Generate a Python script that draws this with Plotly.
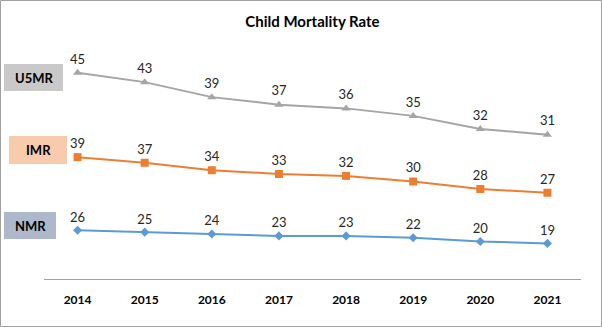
import plotly.graph_objects as go

years = ["2014", "2015", "2016", "2017", "2018", "2019", "2020", "2021"]
nmr = [26, 25, 24, 23, 23, 22, 20, 19]
imr = [39, 37, 34, 33, 32, 30, 28, 27]
u5mr = [45, 43, 39, 37, 36, 35, 32, 31]

series_names = ["NMR", "IMR", "U5MR"]
series_colors = ["#5B9BD5", "#ED7D31", "#A5A5A5"]
series_symbols = ["diamond", "square", "triangle-up"]
series_sizes = [7, 8, 8]
box_colors = ["#ADB9CA", "#F8CBAD", "#C9C9C9"]

W, H = 602, 327
L, R, T, B = 44, 21, 54, 48
PW, PH = W - L - R, H - T - B

def px_x(x):
    return (x - L) / PW

def px_y(y):
    return (H - B - y) / PH

fig = go.Figure()
for name, vals, col, sym, sz in zip(series_names, [nmr, imr, u5mr], series_colors, series_symbols, series_sizes):
    fig.add_trace(go.Scatter(
        x=years, y=vals, name=name, stackgroup="one", fill="none",
        mode="lines+markers+text",
        line=dict(color=col, width=2),
        marker=dict(color=col, symbol=sym, size=sz),
        text=[str(v) for v in vals], textposition="top center",
        textfont=dict(family="Lato, Arial", size=13, color="#262626"),
        hoverinfo="skip",
    ))

shapes = [dict(type="rect", xref="paper", yref="paper",
               x0=px_x(0.5), x1=px_x(W - 0.5), y0=px_y(H - 0.5), y1=px_y(0.5),
               line=dict(color="#A0A0A0", width=1), layer="below")]
annotations = []
boxes = [(4, 56, 212, 239), (9, 67, 136, 164), (4, 63, 64, 91)]
for name, bc, (x0, x1, y0, y1) in zip(series_names, box_colors, boxes):
    shapes.append(dict(type="rect", xref="paper", yref="paper",
                       x0=px_x(x0), x1=px_x(x1), y0=px_y(y1), y1=px_y(y0),
                       fillcolor=bc, line=dict(width=0), layer="below"))
    annotations.append(dict(xref="paper", yref="paper", x=px_x((x0 + x1) / 2), y=px_y((y0 + y1) / 2),
                            text="<b>%s</b>" % name, showarrow=False, xanchor="center", yanchor="middle",
                            font=dict(family="Lato, Arial", size=13, color="#000000")))

fig.update_layout(
    width=W, height=H,
    margin=dict(l=L, r=R, t=T, b=B),
    paper_bgcolor="white", plot_bgcolor="white",
    showlegend=False,
    title=dict(text="<b>Child Mortality Rate</b>", x=0.5, xref="paper", xanchor="center",
               y=1 - 22 / H, yanchor="middle",
               font=dict(family="Lato, Arial", size=15, color="#000000")),
    xaxis=dict(type="category", range=[-0.5, 7.5], showgrid=False, zeroline=False,
               showline=True, linecolor="#A0A0A0", linewidth=1, ticks="",
               ticklabelstandoff=10,
               tickfont=dict(family="Lato, Arial", size=12, color="#000000"),
               tickvals=years, ticktext=["<b>%s</b>" % y for y in years]),
    yaxis=dict(range=[0, 120], visible=False, showgrid=False, zeroline=False),
    shapes=shapes, annotations=annotations,
)

fig.write_html("out.html")
